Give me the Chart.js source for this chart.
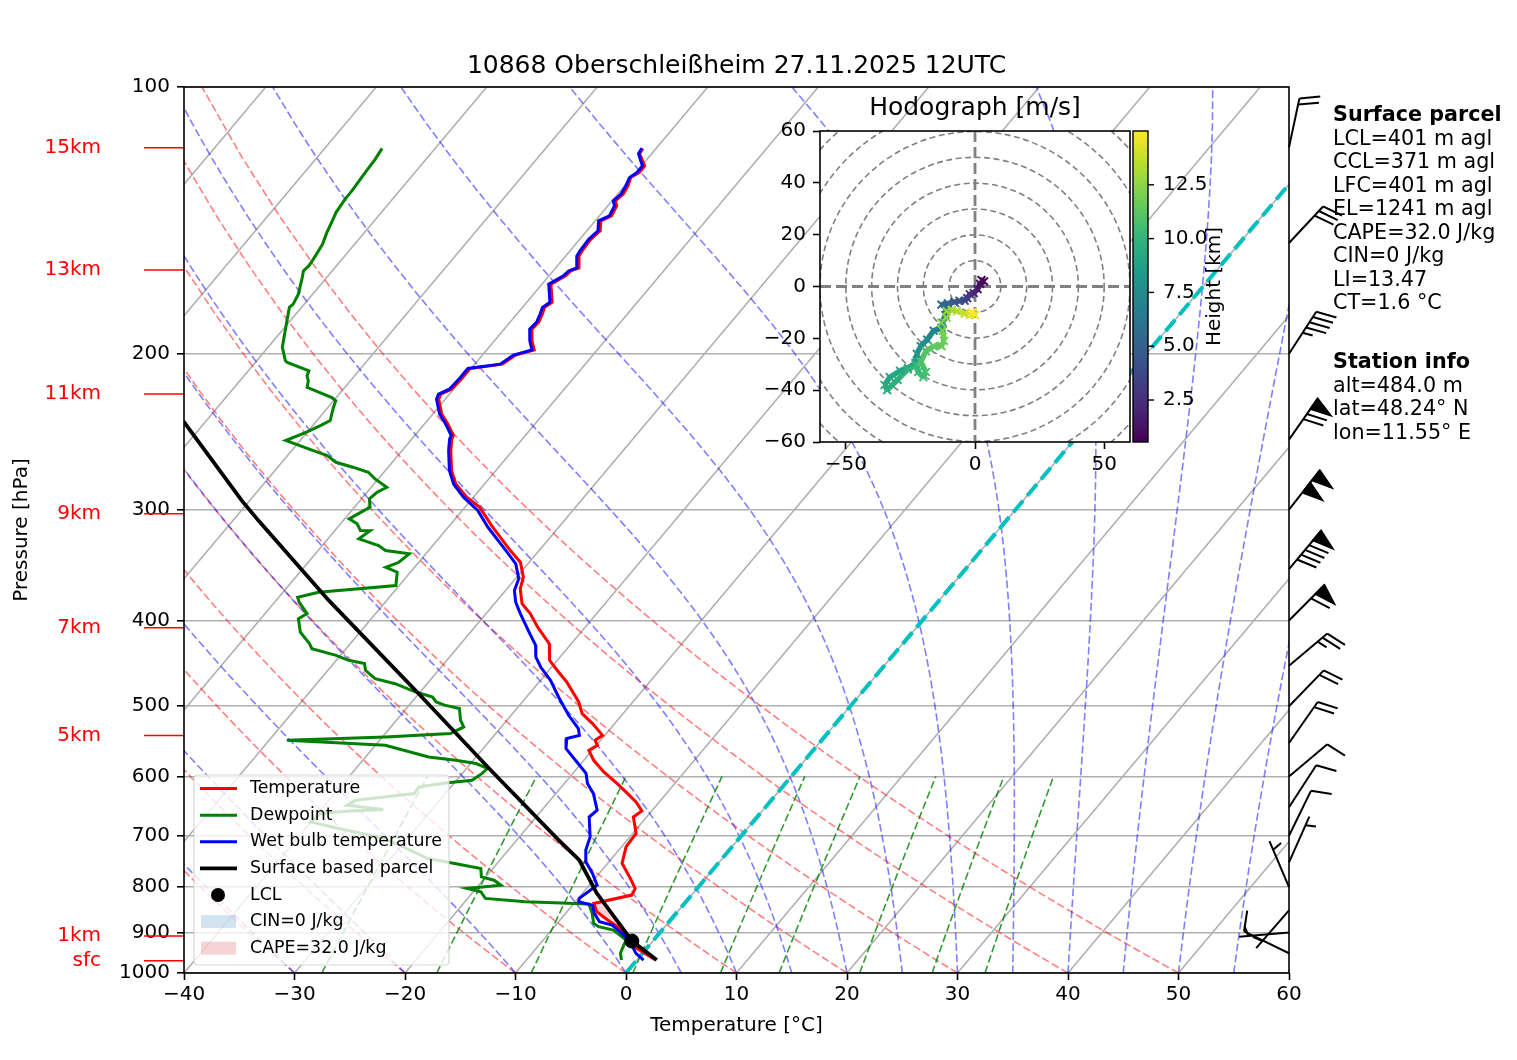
<!DOCTYPE html>
<html><head><meta charset="utf-8">
<script src="https://cdn.jsdelivr.net/npm/chart.js@4.4.1/dist/chart.umd.min.js"></script>
<style>
body{margin:0;background:#fff;}
#wrap{position:relative;width:1517px;height:1060px;overflow:hidden;font-family:'DejaVu Sans',sans-serif;background:#fff;}
#skewt{position:absolute;left:0;top:0;}
#hodoWrap{position:absolute;left:760px;top:90px;width:480px;height:400px;}
.info{position:absolute;left:1333px;font-size:20.7px;line-height:23.5px;color:#000;white-space:pre;font-family:'DejaVu Sans',sans-serif;}
</style></head><body>
<div id="wrap">
<canvas id="skewt" width="1517" height="1060"></canvas>
<div id="hodoWrap"><canvas id="hodo" width="480" height="400"></canvas></div>
<div class="info" id="info1" style="top:103px"></div>
<div class="info" id="info2" style="top:350px"></div>
</div>
<script>
// ---------------- DATA ----------------
const chartTitle = '10868 Oberschleißheim 27.11.2025 12UTC';
const pressureTicks = [100,200,300,400,500,600,700,800,900,1000];
const tempTicks = [-40,-30,-20,-10,0,10,20,30,40,50,60];

const tempP = [117.3,118.9,122.8,124.9,126.5,129.3,132.1,134.4,136.2,139.8,
  141.6,145.3,148.5,153.1,155.1,160.0,161.3,163.3,166.9,175.0,
  177.3,180.4,184.3,187.6,193.4,198.1,200.7,205.5,207.8,213.0,
  219.3,222.2,225.1,233.9,240.0,247.4,249.5,257.2,271.0,280.6,
  290.4,298.0,307.2,312.6,333.6,343.9,357.5,368.4,383.0,393.0,
  407.1,424.9,443.7,457.4,469.4,494.4,509.6,523.0,539.2,546.2,
  553.4,560.6,575.4,593.1,611.2,627.3,641.2,656.2,666.7,695.9,
  720.1,752.0,782.1,802.8,816.7,834.6,852.9,871.2,886.6,910.2,
  938.0,962.5,967.0];
const tempT = [-61.2,-61.1,-59.7,-59.7,-60.1,-59.7,-59.5,-59.7,-59.2,-58.9,
  -59.5,-58.8,-59.0,-58.9,-58.8,-57.9,-58.4,-58.5,-59.2,-57.7,
  -58.0,-57.7,-57.4,-57.5,-56.6,-55.7,-57.0,-57.5,-60.1,-60.1,
  -60.2,-60.8,-60.6,-59.2,-57.9,-56.5,-56.4,-55.6,-54.0,-52.6,
  -50.6,-48.7,-47.1,-46.2,-42.6,-40.8,-39.4,-38.8,-37.5,-36.0,
  -34.3,-32.0,-30.7,-29.0,-27.5,-24.9,-23.7,-22.0,-20.2,-20.5,
  -19.9,-20.3,-19.1,-17.3,-15.2,-13.5,-12.1,-10.9,-11.2,-9.7,
  -9.6,-8.7,-6.8,-5.6,-5.4,-8.2,-7.3,-5.7,-4.3,-2.6,
  -0.9,1.3,1.7];

const dewP = [117.3,120.7,124.9,131.0,133.8,138.5,141.6,146.0,150.5,156.4,
  159.1,161.3,164.1,171.3,175.8,177.3,183.6,188.4,196.7,203.7,
  204.6,209.1,211.8,214.6,218.3,224.1,226.0,230.0,237.9,241.1,
  245.3,250.6,256.1,260.6,265.2,268.6,272.2,276.9,283.0,286.7,
  291.6,298.0,307.2,311.2,316.6,316.8,323.6,329.3,333.6,336.4,
  343.9,348.4,352.8,365.3,371.7,376.6,381.4,386.4,393.0,398.2,
  412.4,424.9,430.5,438.0,443.7,447.5,455.4,465.3,471.5,481.8,
  488.1,494.4,498.5,502.8,518.5,527.6,536.8,541.5,546.2,553.4,
  570.3,575.4,580.2,587.7,595.3,605.9,610.2,616.6,627.3,638.3,
  646.6,653.8,657.0,660.7,675.2,686.9,702.1,714.0,742.4,748.9,
  762.0,778.9,785.7,795.9,802.8,809.9,823.8,831.1,834.6,836.1,
  856.4,879.0,886.6,894.4,918.0,938.0,950.1,966.8];
const dewT = [-84.8,-84.6,-84.5,-84.3,-84.3,-84.1,-83.8,-83.4,-82.9,-82.6,
  -82.5,-82.6,-82.2,-81.3,-81.0,-81.1,-80.3,-79.7,-78.7,-77.4,
  -77.1,-74.5,-74.3,-73.8,-73.4,-70.4,-69.8,-69.5,-68.8,-69.3,
  -70.1,-71.3,-68.6,-66.4,-65.1,-63.2,-61.4,-60.3,-58.6,-59.1,
  -59.3,-58.6,-59.6,-58.5,-57.7,-56.8,-57.2,-54.9,-53.9,-51.5,
  -51.8,-52.6,-51.2,-50.3,-56.8,-58.3,-57.8,-57.1,-56.2,-56.6,
  -55.4,-53.7,-53.1,-50.4,-48.9,-47.2,-46.6,-45.1,-42.9,-40.4,
  -38.5,-37.8,-36.8,-35.2,-34.2,-33.4,-34.1,-39.7,-48.4,-39.1,
  -34.3,-31.6,-29.5,-28.1,-28.2,-28.6,-30.8,-32.9,-32.8,-37.6,
  -38.0,-34.4,-37.6,-39.8,-40.0,-37.0,-32.8,-30.7,-26.7,-24.8,
  -21.1,-20.4,-19.0,-18.0,-20.8,-19.3,-18.4,-14.5,-9.9,-8.6,
  -7.6,-6.7,-6.0,-4.4,-2.5,-2.2,-2.0,-1.4];

const wetP = [117.3,118.9,122.8,124.9,126.5,129.3,132.1,134.4,136.2,139.8,
  141.6,145.3,148.5,153.1,155.1,160.0,161.3,163.3,166.9,175.0,
  177.3,180.4,184.3,187.6,193.4,198.1,200.7,205.5,207.8,213.0,
  219.3,222.2,225.1,233.9,240.0,247.4,249.5,257.2,271.0,280.6,
  290.4,300.6,314.0,333.6,345.3,358.9,370.0,381.4,393.0,412.4,
  426.8,439.9,451.5,467.3,488.1,511.8,529.9,539.2,543.7,558.1,
  577.8,595.3,611.2,627.3,654.9,666.7,702.1,726.3,748.9,772.1,
  795.9,823.8,831.1,838.3,856.4,875.2,882.8,902.1,922.0,950.1,
  966.8];
const wetT = [-61.3,-61.2,-59.9,-59.9,-60.2,-59.9,-59.7,-59.9,-59.4,-59.1,
  -59.7,-59.0,-59.2,-59.1,-59.0,-58.1,-58.6,-58.7,-59.4,-57.9,
  -58.2,-57.9,-57.6,-57.7,-56.8,-55.9,-57.2,-57.7,-60.3,-60.3,
  -60.4,-61.0,-60.8,-59.4,-58.1,-56.7,-56.6,-55.8,-54.2,-52.8,
  -50.9,-48.6,-46.4,-43.0,-41.1,-39.7,-39.2,-38.2,-36.9,-34.7,
  -33.1,-32.2,-31.0,-29.1,-27.1,-24.8,-22.9,-22.3,-23.2,-22.5,
  -20.5,-18.8,-17.9,-16.6,-15.0,-15.2,-13.6,-13.0,-12.1,-10.6,
  -9.3,-9.9,-9.7,-8.2,-7.4,-6.3,-4.9,-3.4,-2.0,-0.6,
  0.6];

const parcelP = [967,920,813,746,708,590,484,380,309,293,238.5];
const parcelT = [1.8,-1.9,-8.7,-12.8,-16.2,-27.7,-40.0,-55.2,-67.6,-70.7,-82.0];
const lclP = 920.3, lclT = -1.9;
const capeP = [920,835,834.6,852.9,871.2,886.6,910.2,920];
const capeT = [-1.9,-7.3,-8.2,-7.3,-5.7,-4.3,-2.6,-2.0];
const capeLabel = 'CAPE=32.0 J/kg', cinLabel = 'CIN=0 J/kg';

const heightLabels = ['15km','13km','11km','9km','7km','5km','1km','sfc'];
const heightPressures = [117.1,160.9,222.1,303.1,407.7,539.6,908.4,968.6];

const barbP   = [117,150,200,250,300,350,400,450,500,550,600,650,700,750,800,850,900,950];
const barbDir = [12,43,33,35,38,40,45,50,44,35,50,33,26,24,337,221,265,296];
const barbKt  = [20,30,45,70,100,90,60,25,20,20,10,10,10,5,5,5,5,10];

// reference lines (start values)
const isothermTemps = [-100,-90,-80,-70,-60,-50,-40,-30,-20,-10,0,10,20,30,40,50,60];
const dryAdiabatStarts = [-40,-30,-20,-10,0,10,20,30,40,50];
const moistAdiabatStarts = [-40,-30,-20,-10,0,5,10,15,20,25,30,35,40,45,50,55,60];
const mixingRatios = [0.0004,0.001,0.002,0.004,0.007,0.01,0.016,0.024,0.032];

// hodograph (m/s, km)
const hodoU = [2.5,3.5,2,1,-0.5,-2,-3,-4,-6,-8,-10.5,-13,-11,-11.5,-12.5,-13,-16,-18.5,-21,-22.5,
  -23,-26,-29,-33,-35,-34,-30,-26,-23,-22,-20,-19,-21,-19,-16,-13,-12,-12.5,-13,-11,
  -11,-9,-7,-4,-2,0,-1];
const hodoV = [2.5,2,1,-1,-2.5,-3,-4.5,-5.5,-5.5,-6,-6.5,-7,-8.5,-11,-14,-16,-17,-20.5,-23,-26,
  -29.5,-31.5,-32.5,-35,-38,-40,-36,-32,-30,-33,-35,-33,-29,-25,-23,-23,-21,-17,-14,-12,
  -9.5,-9,-9.5,-10.5,-11,-11,-10];
const hodoH = [0.55,0.8,1.1,1.5,2.0,2.5,3.0,3.5,4.0,4.5,5.0,5.4,5.8,6.1,6.4,6.7,7.0,7.4,7.8,8.1,
  8.4,8.7,8.9,9.1,9.3,9.5,9.7,9.9,10.1,10.3,10.5,10.7,10.9,11.1,11.3,11.5,11.7,11.9,12.1,12.4,
  12.7,13.0,13.3,13.7,14.1,14.5,15.0];
const hodoRings = [10,20,30,40,50,60,70,80];
const hodoTicksX = [-50,0,50];
const hodoTicksY = [-60,-40,-20,0,20,40,60];
const cbMin = 0.55, cbMax = 15.0;
const cbTicks = [2.5,5.0,7.5,10.0,12.5];

const parcelInfoTitle = 'Surface parcel';
const parcelInfo = ['LCL=401 m agl','CCL=371 m agl','LFC=401 m agl','EL=1241 m agl','CAPE=32.0 J/kg','CIN=0 J/kg','LI=13.47','CT=1.6 °C'];
const stationInfoTitle = 'Station info';
const stationInfo = ['alt=484.0 m','lat=48.24° N','lon=11.55° E'];

// ---------------- HELPERS ----------------
const FONT = "'DejaVu Sans', sans-serif";
Chart.defaults.font.family = FONT;
Chart.defaults.color = '#000';
const SKEW = 67.4;
const sk = (T,p) => T + SKEW*Math.log10(1000/p);
const toPts = (P,T) => P.map((p,i)=>({x:sk(T[i],p), y:p}));
const minus = v => (v<0?'\u2212':'') + Math.abs(v);
const Rd=287.04749, Cpd=1004.6662, Lv=2.50084e6, EPS=0.621957;
function es(Tk){const c=Tk-273.15; return 6.112*Math.exp(17.67*c/(c+243.5));}
function dTdp(Tk,p){const e=es(Tk); const rs=EPS*e/(p-e); return (Rd*Tk+Lv*rs)/(Cpd+Lv*Lv*rs*EPS/(Rd*Tk*Tk))/p;}
function moistLine(t0){let T=t0+273.15,p=1000;const pts=[{x:sk(t0,1000),y:1000}];const h=-10;
  while(p>100.5){const k1=dTdp(T,p),k2=dTdp(T+h/2*k1,p+h/2),k3=dTdp(T+h/2*k2,p+h/2),k4=dTdp(T+h*k3,p+h);
    T+=h/6*(k1+2*k2+2*k3+k4);p+=h;pts.push({x:sk(T-273.15,p),y:p});}return pts;}
function dryLine(t0){const pts=[];for(let p=1000;p>=99.9;p-=20){const T=(t0+273.15)*Math.pow(p/1000,Rd/Cpd)-273.15;pts.push({x:sk(T,p),y:p});}return pts;}
function mixLine(w){const pts=[];for(let p=1000;p>=600;p-=50){const e=p*w/(EPS+w);const l=Math.log(e/6.112);const Td=243.5*l/(17.67-l);pts.push({x:sk(Td,p),y:p});}return pts;}

const VIR=['#440154','#482878','#3e4989','#31688e','#26828e','#1f9e89','#35b779','#6ece58','#b5de2b','#fde725'];
function hex(c){return [parseInt(c.substr(1,2),16),parseInt(c.substr(3,2),16),parseInt(c.substr(5,2),16)];}
function viridis(t){t=Math.max(0,Math.min(1,t));const n=VIR.length-1;const i=Math.min(n-1,Math.floor(t*n));const f=t*n-i;
  const a=hex(VIR[i]),b=hex(VIR[i+1]);return 'rgb('+a.map((v,k)=>Math.round(v+(b[k]-v)*f)).join(',')+')';}
const hNorm = h => (h-cbMin)/(cbMax-cbMin);

// ---------------- MAIN DATASETS ----------------
const base = {showLine:true, pointRadius:0, pointHoverRadius:0, fill:false, tension:0};
const datasets = [];
datasets.push({...base, label:'Temperature', legendRank:0, legendKind:'line', data:toPts(tempP,tempT), borderColor:'#ff0000', borderWidth:3, order:40});
datasets.push({...base, label:'Dewpoint', legendRank:1, legendKind:'line', data:toPts(dewP,dewT), borderColor:'#008000', borderWidth:3, order:35});
datasets.push({...base, label:'Wet bulb temperature', legendRank:2, legendKind:'line', data:toPts(wetP,wetT), borderColor:'#0000ff', borderWidth:3, order:30});
datasets.push({...base, label:'Surface based parcel', legendRank:3, legendKind:'line', data:toPts(parcelP,parcelT), borderColor:'#000000', borderWidth:3.8, order:20});
datasets.push({label:'LCL', legendRank:4, legendKind:'marker', showLine:false, data:[{x:sk(lclT,lclP),y:lclP}], pointRadius:7, pointBackgroundColor:'#000', pointBorderColor:'#000', borderColor:'#000', order:10});
datasets.push({...base, label:cinLabel, legendRank:5, legendKind:'patch', data:[], fill:'shape', backgroundColor:'rgba(31,119,180,0.2)', borderWidth:0, order:50});
datasets.push({...base, label:capeLabel, legendRank:6, legendKind:'patch', data:toPts(capeP,capeT), fill:'shape', backgroundColor:'rgba(214,39,40,0.2)', borderWidth:0, order:50});
datasets.push({...base, data:[{x:sk(0,1000),y:1000},{x:sk(0,100),y:100}], borderColor:'rgb(0,191,191)', borderWidth:4, borderDash:[15,6.5], order:60});
mixingRatios.forEach(w=>datasets.push({...base, data:mixLine(w), borderColor:'rgba(0,128,0,0.8)', borderWidth:1.6, borderDash:[7.7,3.3], order:70}));
moistAdiabatStarts.forEach(t=>datasets.push({...base, data:moistLine(t), borderColor:'rgba(0,0,255,0.5)', borderWidth:1.6, borderDash:[7.7,3.3], order:80}));
dryAdiabatStarts.forEach(t=>datasets.push({...base, data:dryLine(t), borderColor:'rgba(255,0,0,0.5)', borderWidth:1.6, borderDash:[7.7,3.3], order:90}));
isothermTemps.forEach(t=>datasets.push({...base, data:[{x:sk(t,1000),y:1000},{x:sk(t,100),y:100}], borderColor:'#b0b0b0', borderWidth:1.6, order:100}));

// ---------------- PLUGINS ----------------
const framePlugin = {id:'frame', afterDraw(chart){const {ctx,chartArea:a}=chart;ctx.save();ctx.strokeStyle='#000';ctx.lineWidth=1.6;ctx.setLineDash([]);ctx.strokeRect(a.left,a.top,a.right-a.left,a.bottom-a.top);ctx.restore();}};

const kmPlugin = {id:'km', afterDraw(chart){const {ctx,chartArea:a}=chart;const ys=chart.scales.y;ctx.save();
  ctx.strokeStyle='#ff0000';ctx.fillStyle='#ff0000';ctx.lineWidth=1.5;ctx.font='20px '+FONT;ctx.textAlign='right';ctx.textBaseline='middle';
  heightPressures.forEach((p,i)=>{const y=ys.getPixelForValue(p);ctx.beginPath();ctx.moveTo(a.left-40,y);ctx.lineTo(a.left,y);ctx.stroke();ctx.fillText(heightLabels[i],a.left-83,y);});
  ctx.restore();}};

const legendPlugin = {id:'mplLegend', afterDatasetsDraw(chart){
  const items=chart.data.datasets.filter(d=>d.legendRank!==undefined).sort((a,b)=>a.legendRank-b.legendRank);
  const {ctx,chartArea:a}=chart;const rowH=26.6;const left=a.left+10,width=255,height=items.length*rowH+3.8,top=a.bottom-8-height;
  ctx.save();ctx.setLineDash([]);
  const r=4;ctx.beginPath();ctx.moveTo(left+r,top);ctx.lineTo(left+width-r,top);ctx.quadraticCurveTo(left+width,top,left+width,top+r);
  ctx.lineTo(left+width,top+height-r);ctx.quadraticCurveTo(left+width,top+height,left+width-r,top+height);ctx.lineTo(left+r,top+height);
  ctx.quadraticCurveTo(left,top+height,left,top+height-r);ctx.lineTo(left,top+r);ctx.quadraticCurveTo(left,top,left+r,top);ctx.closePath();
  ctx.fillStyle='rgba(255,255,255,0.8)';ctx.fill();ctx.strokeStyle='rgba(204,204,204,0.8)';ctx.lineWidth=1.2;ctx.stroke();
  ctx.font='17.4px '+FONT;ctx.textBaseline='middle';ctx.textAlign='left';
  items.forEach((d,i)=>{const cy=top+13.6+i*rowH;
    if(d.legendKind==='line'){ctx.strokeStyle=d.borderColor;ctx.lineWidth=d.borderWidth;ctx.beginPath();ctx.moveTo(left+6,cy);ctx.lineTo(left+43,cy);ctx.stroke();}
    else if(d.legendKind==='marker'){ctx.fillStyle=d.pointBackgroundColor;ctx.beginPath();ctx.arc(left+24,cy,7,0,Math.PI*2);ctx.fill();}
    else {ctx.fillStyle=d.backgroundColor;ctx.fillRect(left+7,cy-6.5,35,13);}
    ctx.fillStyle='#000';ctx.fillText(d.label,left+56,cy);});
  ctx.restore();}};

function drawBarb(ctx,x,y,dir,spd){
  const L=50,H=20,W=12.5,SP=6.25;const rad=dir*Math.PI/180;const sx=Math.sin(rad),sy=-Math.cos(rad);const px=-sy,py=sx;
  const pt=(a,b)=>[x+px*a+sx*b,y+py*a+sy*b];
  let s=Math.round(spd/5)*5;const nf=Math.floor(s/50);s-=nf*50;const nb=Math.floor(s/10);s-=nb*10;const half=s>=5;
  ctx.beginPath();ctx.moveTo(...pt(0,0));ctx.lineTo(...pt(0,L));ctx.stroke();
  let off=L;
  for(let i=0;i<nf;i++){if(off!==L)off+=SP/2;ctx.beginPath();ctx.moveTo(...pt(0,off));ctx.lineTo(...pt(H,off-W/2));ctx.lineTo(...pt(0,off-W));ctx.closePath();ctx.fill();ctx.stroke();off-=W+SP;}
  for(let i=0;i<nb;i++){ctx.beginPath();ctx.moveTo(...pt(0,off));ctx.lineTo(...pt(H,off+W/2));ctx.stroke();off-=SP;}
  if(half){if(off===L)off-=1.5*SP;ctx.beginPath();ctx.moveTo(...pt(0,off));ctx.lineTo(...pt(H/2,off+W/4));ctx.stroke();}
}
const barbPlugin = {id:'barbs', afterDraw(chart){const {ctx,chartArea:a}=chart;const ys=chart.scales.y;ctx.save();
  ctx.strokeStyle='#000';ctx.fillStyle='#000';ctx.lineWidth=2;ctx.lineJoin='miter';ctx.setLineDash([]);
  barbP.forEach((p,i)=>drawBarb(ctx,a.right,ys.getPixelForValue(p),barbDir[i],barbKt[i]));ctx.restore();}};

// ---------------- MAIN CHART ----------------
new Chart(document.getElementById('skewt'), {
  type:'scatter',
  data:{datasets},
  options:{
    responsive:false, animation:false, events:[],
    layout:{padding:{left:0,right:228,top:0,bottom:0}},
    plugins:{legend:{display:false}, tooltip:{enabled:false},
      title:{display:true, text:chartTitle, fullSize:false, color:'#000', font:{size:25, weight:'normal', family:FONT}, padding:{top:51,bottom:6}}},
    scales:{
      x:{type:'linear', min:-40, max:60,
        afterBuildTicks:s=>{s.ticks=tempTicks.map(v=>({value:v}));},
        afterFit:s=>{s.height=87;},
        grid:{drawOnChartArea:false, drawTicks:true, tickLength:7, tickColor:'#000', tickWidth:1.6},
        border:{display:false},
        ticks:{font:{size:20}, padding:3, color:'#000', maxRotation:0, autoSkip:false, callback:v=>minus(v)},
        title:{display:true, text:'Temperature [°C]', font:{size:20}, color:'#000', padding:{top:0,bottom:22}}},
      y:{type:'logarithmic', min:100, max:1000, reverse:true,
        afterBuildTicks:s=>{s.ticks=pressureTicks.map(v=>({value:v}));},
        afterFit:s=>{s.width=184;},
        grid:{color:'#b0b0b0', lineWidth:1.6, drawTicks:true, tickLength:7, tickColor:'#000', tickWidth:1.6},
        border:{display:false},
        ticks:{font:{size:20}, padding:7, color:'#000', autoSkip:false, callback:v=>String(v)},
        title:{display:true, text:'Pressure [hPa]', font:{size:20}, color:'#000', padding:{top:10,bottom:0}}}
    }
  },
  plugins:[legendPlugin, kmPlugin, barbPlugin, framePlugin]
});

// ---------------- HODOGRAPH ----------------
const hodoColors = hodoH.map(h=>viridis(hNorm(h)));
const hodoBg = {id:'hodoBg', beforeDraw(chart){const {ctx,chartArea:a}=chart;ctx.save();ctx.fillStyle='#fff';ctx.fillRect(a.left,a.top,a.right-a.left,a.bottom-a.top);ctx.restore();},
  beforeDatasetsDraw(chart){const {ctx,chartArea:a}=chart;const xs=chart.scales.x,ys=chart.scales.y;const cx=xs.getPixelForValue(0),cy=ys.getPixelForValue(0);
    ctx.save();ctx.beginPath();ctx.rect(a.left,a.top,a.right-a.left,a.bottom-a.top);ctx.clip();
    ctx.strokeStyle='#808080';ctx.lineWidth=1.6;ctx.setLineDash([6,3.5]);
    hodoRings.forEach(r=>{const rp=xs.getPixelForValue(r)-cx;ctx.beginPath();ctx.arc(cx,cy,rp,0,Math.PI*2);ctx.stroke();});
    ctx.lineWidth=2.8;ctx.setLineDash([11,5]);
    ctx.beginPath();ctx.moveTo(a.left,cy);ctx.lineTo(a.right,cy);ctx.stroke();
    ctx.beginPath();ctx.moveTo(cx,a.top);ctx.lineTo(cx,a.bottom);ctx.stroke();
    ctx.restore();},
  afterDraw(chart){const {ctx,chartArea:a}=chart;ctx.save();ctx.setLineDash([]);ctx.strokeStyle='#000';ctx.lineWidth=1.6;ctx.strokeRect(a.left,a.top,a.right-a.left,a.bottom-a.top);
    const bx=a.right+3,bw=15,bt=a.top,bb=a.bottom;
    const g=ctx.createLinearGradient(0,bb,0,bt);for(let i=0;i<=20;i++){g.addColorStop(i/20,viridis(i/20));}
    ctx.fillStyle=g;ctx.fillRect(bx,bt,bw,bb-bt);ctx.lineWidth=1.4;ctx.strokeRect(bx,bt,bw,bb-bt);
    ctx.font='20px '+FONT;ctx.fillStyle='#000';ctx.textAlign='left';ctx.textBaseline='middle';
    cbTicks.forEach(v=>{const y=bb-(v-cbMin)/(cbMax-cbMin)*(bb-bt);ctx.beginPath();ctx.moveTo(bx+bw,y);ctx.lineTo(bx+bw+6,y);ctx.stroke();ctx.fillText(v.toFixed(1),bx+bw+15,y);});
    ctx.save();ctx.translate(bx+bw+67,(bt+bb)/2);ctx.rotate(-Math.PI/2);ctx.textAlign='center';ctx.fillText('Height [km]',0,0);ctx.restore();
    ctx.restore();}};

new Chart(document.getElementById('hodo'), {
  type:'scatter',
  data:{datasets:[{label:'Hodograph', data:hodoU.map((u,i)=>({x:u,y:hodoV[i]})), showLine:true, borderWidth:5.5,
    borderColor:hodoColors[0], segment:{borderColor:c=>hodoColors[c.p1DataIndex]},
    pointStyle:'crossRot', pointRadius:5.5, pointBorderWidth:2, pointBorderColor:hodoColors, pointBackgroundColor:hodoColors}]},
  options:{responsive:false, animation:false, events:[],
    layout:{padding:{left:0,right:110,top:0,bottom:0}},
    plugins:{legend:{display:false}, tooltip:{enabled:false},
      title:{display:true, text:'Hodograph [m/s]', fullSize:false, color:'#000', font:{size:25, weight:'normal', family:FONT}, padding:{top:3,bottom:8}}},
    scales:{
      x:{type:'linear', min:-60, max:60, afterBuildTicks:s=>{s.ticks=hodoTicksX.map(v=>({value:v}));}, afterFit:s=>{s.height=48;},
        grid:{drawOnChartArea:false, tickLength:7, tickColor:'#000', tickWidth:1.6}, border:{display:false},
        ticks:{font:{size:20}, padding:4, color:'#000', maxRotation:0, autoSkip:false, callback:v=>minus(v)}},
      y:{type:'linear', min:-60, max:60, afterBuildTicks:s=>{s.ticks=hodoTicksY.map(v=>({value:v}));}, afterFit:s=>{s.width=60;},
        grid:{drawOnChartArea:false, tickLength:7, tickColor:'#000', tickWidth:1.6}, border:{display:false},
        ticks:{font:{size:20}, padding:7, color:'#000', autoSkip:false, callback:v=>minus(v)}}
    }},
  plugins:[hodoBg]
});

// ---------------- INFO TEXT ----------------
document.getElementById('info1').innerHTML = '<b>'+parcelInfoTitle+'</b>\n'+parcelInfo.join('\n');
document.getElementById('info2').innerHTML = '<b>'+stationInfoTitle+'</b>\n'+stationInfo.join('\n');
</script>
</body></html>
